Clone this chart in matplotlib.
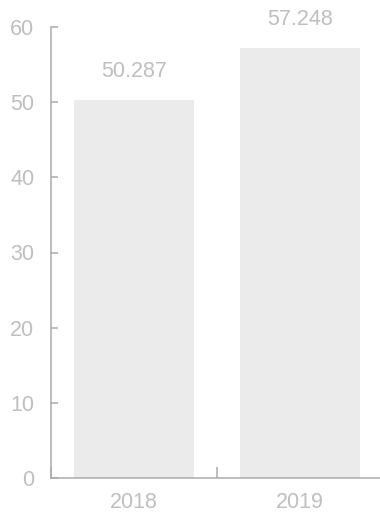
import matplotlib
matplotlib.use("Agg")
import matplotlib.pyplot as plt

years = ["2018", "2019"]
values = [50.287, 57.248]
y_ticks = [0, 10, 20, 30, 40, 50, 60]

text_color = "#bfbfbf"
axis_color = "#ababab"
bar_color = "#ebebeb"

plt.rcParams["font.family"] = ["Liberation Sans", "DejaVu Sans"]

W, H = 380, 512
fig = plt.figure(figsize=(W / 100, H / 100), dpi=100)
ax = fig.add_axes([51 / W, (H - 478) / H, (383 - 51) / W, (478 - 27) / H])

x = list(range(len(years)))
ax.bar(x, values, width=0.723, color=bar_color, zorder=1)

for xi, v in zip(x, values):
    ax.annotate(f"{v:.3f}", (xi, v), xytext=(0, 13), textcoords="offset points",
                ha="center", va="bottom", fontsize=15.5, color=text_color)

ax.set_xlim(-0.5, len(years) - 0.5)
ax.set_ylim(0, 60)
ax.set_yticks(y_ticks)
ax.set_yticklabels([str(t) for t in y_ticks])

# category boundaries carry the tick marks; names sit in the band centres
ax.set_xticks([i - 0.5 for i in range(len(years) + 1)])
ax.set_xticklabels([])
ax.set_xticks(x, minor=True)
ax.set_xticklabels(years, minor=True)

ax.tick_params(axis="x", which="major", direction="in", length=8, width=1.1, color=axis_color)
ax.tick_params(axis="x", which="minor", length=0, pad=10, labelsize=15.5, labelcolor=text_color)
ax.tick_params(axis="y", direction="in", length=5, width=1.1, color=axis_color,
               pad=12, labelsize=15.5, labelcolor=text_color)

for side in ("top", "right"):
    ax.spines[side].set_visible(False)
for side in ("left", "bottom"):
    ax.spines[side].set_color(axis_color)
    ax.spines[side].set_linewidth(1.1)

fig.savefig("out.png", dpi=100)
